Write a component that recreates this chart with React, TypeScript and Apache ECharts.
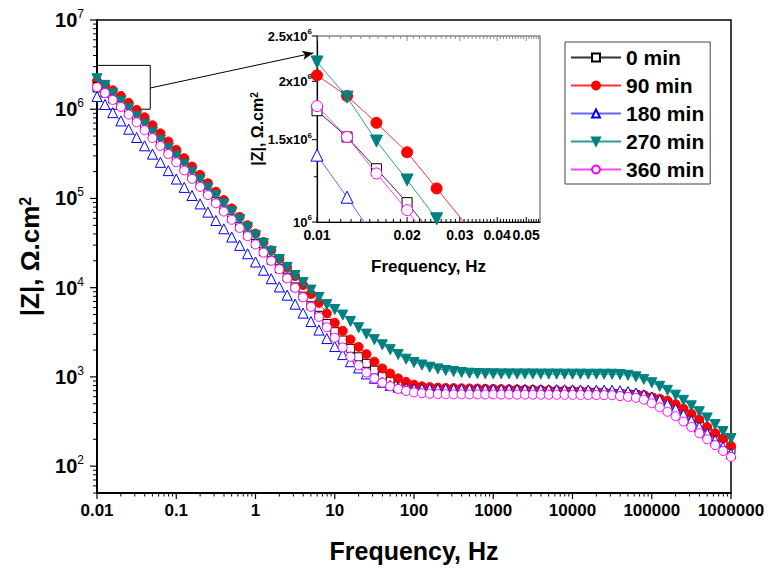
import React, { useEffect, useRef } from "react";
import * as echarts from "echarts";

const FREQ = [
  0.01, 0.0126, 0.0158, 0.02, 0.0251, 0.0316, 0.0398, 0.0501, 0.0631, 0.0794,
  0.1, 0.126, 0.158, 0.2, 0.251, 0.316, 0.398, 0.501, 0.631, 0.794,
  1, 1.26, 1.58, 2, 2.51, 3.16, 3.98, 5.01, 6.31, 7.94,
  10, 12.6, 15.8, 20, 25.1, 31.6, 39.8, 50.1, 63.1, 79.4,
  100, 126, 158, 200, 251, 316, 398, 501, 631, 794,
  1000, 1260, 1580, 2000, 2510, 3160, 3980, 5010, 6310, 7940,
  10000, 12600, 15800, 20000, 25100, 31600, 39800, 50100, 63100, 79400,
  100000, 126000, 158000, 200000, 251000, 316000, 398000, 501000, 631000, 794000, 1000000,
];

const Z_0 = [
  1730000, 1520000, 1300000, 1100000, 916000, 760000, 628000, 515000, 422000, 339000,
  272000, 220000, 177000, 143000, 115000, 92500, 74500, 60000, 48300, 38900,
  31300, 25200, 20300, 16300, 13100, 10200, 8040, 6270, 4900, 3960,
  3210, 2590, 2090, 1680, 1420, 1190, 1021, 891, 813, 767,
  741, 728, 719, 714, 711, 708, 706, 705, 703, 701,
  700, 698, 697, 695, 693, 692, 690, 689, 685, 682,
  679, 675, 670, 664, 658, 652, 646, 638, 631, 610,
  582, 550, 507, 459, 407, 355, 302, 257, 216, 182, 153,
];

const Z_90 = [
  2060000, 1860000, 1630000, 1410000, 1180000, 984000, 813000, 661000, 537000, 435000,
  351000, 283000, 228000, 184000, 148000, 119000, 95900, 77300, 62200, 50100,
  40400, 32500, 26200, 21000, 16800, 13500, 10700, 8510, 6760, 5150,
  4050, 3290, 2630, 2170, 1800, 1480, 1245, 1094, 962, 881,
  817, 785, 769, 759, 753, 750, 746, 743, 740, 736,
  733, 729, 726, 723, 719, 716, 713, 710, 706, 703,
  700, 695, 689, 682, 675, 667, 658, 649, 638, 625,
  592, 569, 543, 495, 442, 387, 335, 275, 234, 204, 169,
];

const Z_180 = [
  1390000, 1130000, 916000, 740000, 597000, 482000, 389000, 314000, 254000, 205000,
  165000, 133000, 108000, 86900, 70200, 56600, 45700, 36900, 29800, 24000,
  19400, 15700, 12600, 10200, 8240, 6530, 5190, 4170, 3350, 2690,
  2190, 1780, 1480, 1260, 1080, 966, 871, 804, 767, 750,
  738, 735, 733, 731, 731, 729, 729, 728, 728, 726,
  726, 724, 724, 723, 723, 721, 721, 719, 719, 718,
  716, 714, 713, 711, 710, 708, 700, 684, 661, 631,
  596, 550, 495, 437, 378, 324, 275, 232, 195, 164, 138,
];

const Z_270 = [
  2200000, 1850000, 1490000, 1230000, 1016000, 828000, 675000, 550000, 448000, 365000,
  297000, 242000, 197000, 161000, 131000, 107000, 86900, 70800, 57700, 47000,
  38300, 31200, 25400, 20700, 16900, 13700, 11400, 9400, 7760, 6460,
  5690, 4930, 4190, 3560, 3020, 2620, 2290, 2020, 1780, 1580,
  1450, 1360, 1285, 1230, 1180, 1150, 1120, 1100, 1091, 1086,
  1084, 1081, 1081, 1079, 1079, 1079, 1076, 1076, 1076, 1074,
  1074, 1074, 1072, 1072, 1072, 1072, 1062, 1042, 1002, 938,
  861, 785, 708, 625, 547, 474, 407, 347, 292, 244, 204,
];

const Z_360 = [
  1770000, 1520000, 1270000, 1060000, 871000, 713000, 582000, 475000, 387000, 314000,
  254000, 206000, 166000, 135000, 109000, 88100, 71300, 57700, 46700, 37800,
  30500, 24700, 20000, 16100, 12700, 9950, 7800, 6100, 4700, 3600,
  2750, 2140, 1680, 1350, 1120, 966, 861, 785, 733, 697,
  671, 656, 647, 643, 640, 638, 638, 637, 637, 636,
  636, 635, 635, 634, 634, 633, 633, 632, 631, 630,
  629, 628, 627, 626, 625, 624, 610, 598, 583, 556,
  507, 457, 407, 363, 316, 275, 234, 200, 172, 148, 127,
];

const SERIES_NAMES = ["0 min", "90 min", "180 min", "270 min", "360 min"];
const SERIES_VALUES = [Z_0, Z_90, Z_180, Z_270, Z_360];

// main axes
const X_RANGE = [0.01, 1000000];
const Y_RANGE = [50, 10000000];
const X_MAJOR = [0.01, 0.1, 1, 10, 100, 1000, 10000, 100000, 1000000];
const X_LABELS = ["0.01", "0.1", "1", "10", "100", "1000", "10000", "100000", "1000000"];
const Y_MAJOR = [100, 1000, 10000, 100000, 1000000, 10000000];
const MINOR_STEPS = [2, 3, 4, 5, 6, 7, 8, 9];

// inset axes
const INSET_X_RANGE = [0.01, 0.0556];
const INSET_Y_RANGE = [1000000, 2500000];
const INSET_X_MAJOR = [0.01, 0.02, 0.03, 0.04, 0.05];
const INSET_X_LABELS = ["0.01", "0.02", "0.03", "0.04", "0.05"];
const INSET_Y_MAJOR = [1000000, 1500000, 2000000, 2500000];
const INSET_Y_PREFIX = ["", "1.5x", "2x", "2.5x"];
const INSET_Y_MINOR = [1250000, 1750000, 2250000];

// zoom annotation on main plot
const ZOOM_BOX_X = [0.01, 0.047];
const ZOOM_BOX_Y = [1000000, 3100000];
const ARROW_FROM = [0.047, 1730000];
const ARROW_TO = [5.37, 4270000];

const FONT = "'Liberation Sans', Arial, sans-serif";

const STYLES = [
  { symbol: "rect", rotate: 0, fill: "#ffffff", stroke: "#000000", line: "#333333", size: 8, inset: 10 },
  { symbol: "circle", rotate: 0, fill: "#ff0000", stroke: "#ff0000", line: "#ff3333", size: 9, inset: 11 },
  { symbol: "triangle", rotate: 0, fill: "#ffffff", stroke: "#0000ff", line: "#6666ff", size: 10, inset: 12 },
  { symbol: "triangle", rotate: 180, fill: "#008080", stroke: "#008080", line: "#2f9a9a", size: 10, inset: 12 },
  { symbol: "circle", rotate: 0, fill: "#ffffff", stroke: "#ff00ff", line: "#ff44ff", size: 9, inset: 11 },
];

function minorTicks(fromExp: number, toExp: number, lo: number, hi: number) {
  const out: number[] = [];
  for (let e = fromExp; e <= toExp; e++) {
    for (const m of MINOR_STEPS) {
      const v = m * Math.pow(10, e);
      if (v >= lo && v <= hi) out.push(v);
    }
  }
  return out;
}

function tickSeries(
  xi: number,
  yi: number,
  axis: "x" | "y",
  values: number[],
  len: number,
  anchor: number,
  dir: number,
  color: string,
  width = 1
) {
  return {
    type: "custom",
    xAxisIndex: xi,
    yAxisIndex: yi,
    silent: true,
    clip: false,
    z: 20,
    data: values.map((v) => (axis === "x" ? [v, anchor] : [anchor, v])),
    renderItem: (_p: any, api: any) => {
      const pt = api.coord([api.value(0), api.value(1)]);
      const shape =
        axis === "x"
          ? { x1: pt[0], y1: pt[1], x2: pt[0], y2: pt[1] + len * dir }
          : { x1: pt[0], y1: pt[1], x2: pt[0] + len * dir, y2: pt[1] };
      return { type: "line", shape, style: { stroke: color, lineWidth: width } };
    },
  };
}

function buildOption() {
  const series: any[] = [];

  SERIES_NAMES.forEach((name, i) => {
    const st = STYLES[i];
    const data = FREQ.map((f, k) => [f, SERIES_VALUES[i][k]]);
    const main: any = {
      name,
      type: "line",
      xAxisIndex: 0,
      yAxisIndex: 0,
      data,
      symbol: st.symbol,
      symbolSize: st.size,
      symbolRotate: st.rotate,
      showAllSymbol: true,
      lineStyle: { color: st.line, width: 1 },
      itemStyle: { color: st.fill, borderColor: st.stroke, borderWidth: 1 },
      emphasis: { disabled: true },
      z: 2 + i,
    };
    if (i === 0) {
      main.markArea = {
        silent: true,
        label: { show: false },
        itemStyle: { color: "rgba(0,0,0,0)", borderColor: "#000", borderWidth: 1 },
        data: [[{ coord: [ZOOM_BOX_X[0], ZOOM_BOX_Y[0]] }, { coord: [ZOOM_BOX_X[1], ZOOM_BOX_Y[1]] }]],
      };
      main.markLine = {
        silent: true,
        symbol: ["none", "arrow"],
        symbolSize: [7, 11],
        label: { show: false },
        lineStyle: { color: "#000", width: 1, type: "solid" },
        data: [[{ coord: ARROW_FROM }, { coord: ARROW_TO }]],
      };
    }
    series.push(main);
    series.push({
      name,
      type: "line",
      xAxisIndex: 1,
      yAxisIndex: 1,
      data,
      symbol: st.symbol,
      symbolSize: st.inset,
      symbolRotate: st.rotate,
      showAllSymbol: true,
      clip: true,
      lineStyle: { color: st.line, width: 1 },
      itemStyle: { color: st.fill, borderColor: st.stroke, borderWidth: 1 },
      emphasis: { disabled: true },
      z: 30 + i,
    });
  });

  // main ticks
  series.push(tickSeries(0, 0, "x", X_MAJOR, 6, Y_RANGE[0], 1, "#000", 1.2));
  series.push(tickSeries(0, 0, "x", minorTicks(-2, 5, X_RANGE[0], X_RANGE[1]), 3.5, Y_RANGE[0], 1, "#000"));
  series.push(tickSeries(0, 0, "y", Y_MAJOR, 7, X_RANGE[0], -1, "#000", 1.2));
  series.push(tickSeries(0, 0, "y", minorTicks(1, 6, Y_RANGE[0], Y_RANGE[1]), 4, X_RANGE[0], -1, "#000"));

  // inset ticks
  const insetMinorX: number[] = [];
  for (let k = 11; k <= 55; k++) if (k % 10 !== 0) insetMinorX.push(k / 1000);
  series.push(tickSeries(1, 1, "x", INSET_X_MAJOR, 5, INSET_Y_RANGE[0], -1, "#000"));
  series.push(tickSeries(1, 1, "x", insetMinorX, 3, INSET_Y_RANGE[0], -1, "#000"));
  series.push(tickSeries(1, 1, "x", INSET_X_MAJOR, 5, INSET_Y_RANGE[1], 1, "#888"));
  series.push(tickSeries(1, 1, "x", insetMinorX, 3, INSET_Y_RANGE[1], 1, "#888"));
  series.push(tickSeries(1, 1, "y", INSET_Y_MAJOR, 5, INSET_X_RANGE[0], -1, "#000"));
  series.push(tickSeries(1, 1, "y", INSET_Y_MINOR, 3, INSET_X_RANGE[0], -1, "#000"));

  // inset labels
  series.push({
    type: "custom",
    xAxisIndex: 1,
    yAxisIndex: 1,
    silent: true,
    clip: false,
    z: 40,
    data: INSET_X_MAJOR.map((v) => [v, INSET_Y_RANGE[0]]),
    renderItem: (p: any, api: any) => {
      const pt = api.coord([api.value(0), api.value(1)]);
      return {
        type: "text",
        x: pt[0],
        y: pt[1] + 6,
        style: {
          text: INSET_X_LABELS[p.dataIndex],
          align: "center",
          verticalAlign: "top",
          fill: "#000",
          font: `bold 14px ${FONT}`,
        },
      };
    },
  });
  series.push({
    type: "custom",
    xAxisIndex: 1,
    yAxisIndex: 1,
    silent: true,
    clip: false,
    z: 40,
    data: INSET_Y_MAJOR.map((v) => [INSET_X_RANGE[0], v]),
    renderItem: (p: any, api: any) => {
      const pt = api.coord([api.value(0), api.value(1)]);
      return {
        type: "text",
        x: pt[0] - 5,
        y: pt[1],
        style: {
          text: `${INSET_Y_PREFIX[p.dataIndex]}10{s|6}`,
          align: "right",
          verticalAlign: "middle",
          fill: "#000",
          font: `bold 13px ${FONT}`,
          lineHeight: 17,
          rich: { s: { fontSize: 8, fontWeight: "bold", fontFamily: FONT, verticalAlign: "top", lineHeight: 8, fill: "#000" } },
        },
      };
    },
  });

  return {
    animation: false,
    backgroundColor: "#ffffff",
    legend: {
      data: SERIES_NAMES,
      orient: "vertical",
      left: 565,
      top: 42,
      itemWidth: 50,
      itemHeight: 10,
      itemGap: 7,
      padding: [5, 6, 4, 5],
      borderColor: "#444",
      borderWidth: 1,
      backgroundColor: "#fff",
      selectedMode: false,
      textStyle: { fontFamily: FONT, fontSize: 21, fontWeight: "bold", color: "#000" },
    },
    grid: [
      { left: 97, top: 20, width: 634, height: 473, show: true, borderColor: "#000", borderWidth: 1.5, backgroundColor: "transparent", containLabel: false },
      { left: 317, top: 36, width: 223, height: 186, show: true, borderColor: "#888", borderWidth: 1.5, backgroundColor: "#fff", containLabel: false },
    ],
    xAxis: [
      {
        type: "log",
        logBase: 10,
        gridIndex: 0,
        min: X_RANGE[0],
        max: X_RANGE[1],
        axisLine: { lineStyle: { color: "#000", width: 2 } },
        axisTick: { show: false },
        splitLine: { show: false },
        axisLabel: {
          interval: 0,
          showMinLabel: true,
          showMaxLabel: true,
          margin: 9,
          color: "#000",
          fontFamily: FONT,
          fontSize: 17,
          fontWeight: "bold",
          formatter: (v: number) => {
            const l = Math.log10(v);
            const e = Math.round(l);
            return Math.abs(l - e) < 1e-6 ? X_LABELS[e + 2] : "";
          },
        },
        name: "Frequency, Hz",
        nameLocation: "middle",
        nameGap: 45,
        nameTextStyle: { fontFamily: FONT, fontSize: 25, fontWeight: "bold", color: "#000" },
      },
      {
        type: "log",
        logBase: 10,
        gridIndex: 1,
        min: INSET_X_RANGE[0],
        max: INSET_X_RANGE[1],
        axisLine: { lineStyle: { color: "#000", width: 1.2 } },
        axisTick: { show: false },
        axisLabel: { show: false },
        splitLine: { show: false },
        name: "Frequency, Hz",
        nameLocation: "middle",
        nameGap: 36,
        nameTextStyle: { fontFamily: FONT, fontSize: 17, fontWeight: "bold", color: "#000" },
      },
    ],
    yAxis: [
      {
        type: "log",
        logBase: 10,
        gridIndex: 0,
        min: Y_RANGE[0],
        max: Y_RANGE[1],
        axisLine: { lineStyle: { color: "#000", width: 2 } },
        axisTick: { show: false },
        splitLine: { show: false },
        axisLabel: {
          showMinLabel: true,
          showMaxLabel: true,
          margin: 13,
          color: "#000",
          formatter: (v: number) => {
            const l = Math.log10(v);
            const e = Math.round(l);
            return Math.abs(l - e) < 1e-6 ? `{b|10}{s|${e}}` : "";
          },
          rich: {
            b: { fontFamily: FONT, fontSize: 20, fontWeight: "bold", color: "#000", lineHeight: 24 },
            s: { fontFamily: FONT, fontSize: 12, color: "#000", verticalAlign: "top", lineHeight: 12 },
          },
        },
        name: "|Z|, Ω.cm{s|2}",
        nameLocation: "middle",
        nameGap: 54,
        nameRotate: 90,
        nameTextStyle: {
          fontFamily: FONT,
          fontSize: 26,
          fontWeight: "bold",
          color: "#000",
          rich: { s: { fontFamily: FONT, fontSize: 16, fontWeight: "bold", color: "#000", verticalAlign: "top" } },
        },
      },
      {
        type: "log",
        logBase: 10,
        gridIndex: 1,
        min: INSET_Y_RANGE[0],
        max: INSET_Y_RANGE[1],
        axisLine: { lineStyle: { color: "#000", width: 1.2 } },
        axisTick: { show: false },
        axisLabel: { show: false },
        splitLine: { show: false },
        name: "|Z|, Ω.cm{s|2}",
        nameLocation: "middle",
        nameGap: 52,
        nameRotate: 90,
        nameTextStyle: {
          fontFamily: FONT,
          fontSize: 16,
          fontWeight: "bold",
          color: "#000",
          rich: { s: { fontFamily: FONT, fontSize: 10, fontWeight: "bold", color: "#000", verticalAlign: "top" } },
        },
      },
    ],
    series,
  };
}

export default function App() {
  const ref = useRef<HTMLDivElement>(null);
  useEffect(() => {
    if (!ref.current) return;
    const chart = echarts.init(ref.current, undefined, { renderer: "svg" });
    chart.setOption(buildOption() as any);
    return () => chart.dispose();
  }, []);
  return (
    <div
      ref={ref}
      style={{ position: "absolute", left: 0, top: 0, width: 772, height: 571, background: "#fff" }}
    />
  );
}
